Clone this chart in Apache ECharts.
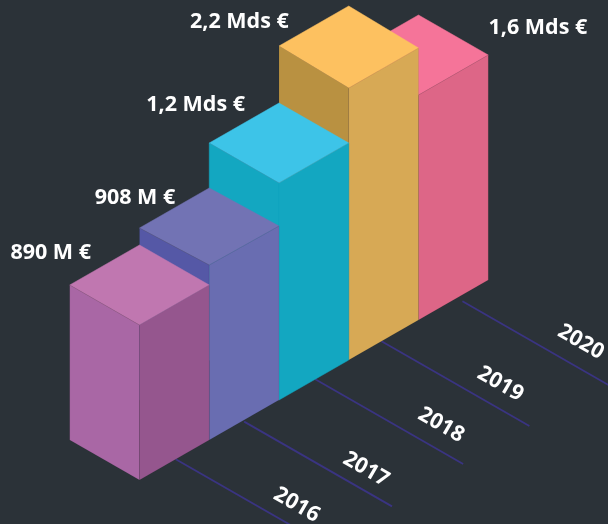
<!DOCTYPE html>
<html lang="en">
<head>
    <meta charset="utf-8" />
    <title>Isometric bars</title>
    <script src="https://cdn.jsdelivr.net/npm/echarts@6/dist/echarts.min.js"></script>
    <style>
        html, body { margin: 0; height: 100%; background: #2b3238; }
        #chart { width: 608px; height: 524px; }
    </style>
</head>
<body>
<div id="chart"></div>
<script>
const years = ['2016', '2017', '2018', '2019', '2020'];
const valueLabels = ['890 M €', '908 M €', '1,2 Mds €', '2,2 Mds €', '1,6 Mds €'];
const heights = [155, 175, 217, 272, 225];

// face colours
const topColors = ['#c077b0', '#7273b4', '#3dc4e8', '#fdc160', '#f57499'];
const leftColors = ['#a967a5', '#5558a6', '#13a7c1', '#b99141', '#c45f7e'];
const rightColors = ['#95568e', '#696db1', '#13a7c1', '#d7a955', '#dd6687'];

// layout of the projection: one x unit is one bar step, y units follow the heights
const riseY = 40;
const tickLength = 2.12;
const tickAlong = [0.52, 0.48, 0.52, 0.47, 0.55];
const tickGap = [0, 0.02, 0, 0, 0.08];
const labelShift = [[-48.5, 8], [-34, 12.5], [-34, 1.5], [-60, 13.5], [70, 12.7]];
const labelAlign = ['right', 'right', 'right', 'right', 'left'];
const yearShift = [[-27, -39], [-26, -37], [-22, -39], [-29, -42], [-29.5, -44]];
// the tops are not perfectly square in the picture
const leftLift = [0, -3, 0, 2, 0];
const rightLift = [0, -1, 0, 0, 0];

const chart = echarts.init(document.getElementById('chart'), null, { renderer: 'canvas' });

function renderBar(params, api) {
    const i = api.value(0);
    const h = api.value(1);
    const order = 10 + (years.length - i);
    // a = along the front right base edge, b = towards the back left
    const pt = (a, b, up) => api.coord([i + a - b, riseY * (i + a + b) + up]);
    const face = (points, fill, stroke) => ({
        type: 'polygon',
        z2: order,
        shape: { points: points },
        style: { fill: fill, stroke: stroke, lineWidth: 0.5 }
    });
    const edge = 'rgba(0,0,0,0.12)';
    const topLeft = pt(0, 1, h + leftLift[i]);
    const topRight = pt(1, 0, h + rightLift[i]);
    const topFront = pt(0, 0, h);
    const topBack = pt(1, 1, h + leftLift[i]);
    const children = [
        face([pt(0, 0, 0), pt(0, 1, 0), topLeft, topFront], leftColors[i], i === 2 ? leftColors[i] : edge),
        face([pt(0, 0, 0), pt(1, 0, 0), topRight, topFront], rightColors[i], i === 2 ? rightColors[i] : edge),
        face([topFront, topRight, topBack, topLeft], topColors[i], topColors[i])
    ];
    // seam between the top and the two sides
    children.push({
        type: 'polyline',
        z2: order,
        shape: { points: [topLeft, topFront, topRight] },
        style: { fill: null, stroke: 'rgba(0,0,0,0.16)', lineWidth: 0.6 }
    });

    // tick line running away from the base edge, drawn under the bars
    const start = [i + tickAlong[i] + tickGap[i], riseY * (i + tickAlong[i] - tickGap[i])];
    const tickStart = api.coord(start);
    const tickEnd = api.coord([start[0] + tickLength, start[1] - riseY * tickLength]);
    children.push({
        type: 'line',
        z2: 1,
        shape: { x1: tickStart[0], y1: tickStart[1], x2: tickEnd[0], y2: tickEnd[1] },
        style: { stroke: '#3a3482', lineWidth: 1.8 }
    });
    children.push({
        type: 'text',
        z2: 30,
        x: tickEnd[0] + yearShift[i][0],
        y: tickEnd[1] + yearShift[i][1],
        rotation: -Math.PI / 6,
        style: {
            text: years[i],
            fill: '#ffffff',
            font: '700 21.5px "Open Sans"',
            align: 'center',
            verticalAlign: 'middle'
        }
    });

    const back = pt(1, 1, h);
    children.push({
        type: 'text',
        z2: 30,
        x: back[0] + labelShift[i][0],
        y: back[1] + labelShift[i][1],
        style: {
            text: valueLabels[i],
            fill: '#ffffff',
            font: '700 21.5px "Open Sans"',
            align: labelAlign[i],
            verticalAlign: 'middle'
        }
    });
    return { type: 'group', children: children };
}

chart.setOption({
    backgroundColor: '#2b3238',
    animation: false,
    grid: { left: 0, right: 0, top: 0, bottom: 0 },
    xAxis: { type: 'value', min: -2, max: 6.717, show: false },
    yAxis: { type: 'value', min: -44, max: 480, show: false },
    series: [{
        type: 'custom',
        renderItem: renderBar,
        data: years.map((y, i) => [i, heights[i]])
    }]
});
</script>
</body>
</html>
